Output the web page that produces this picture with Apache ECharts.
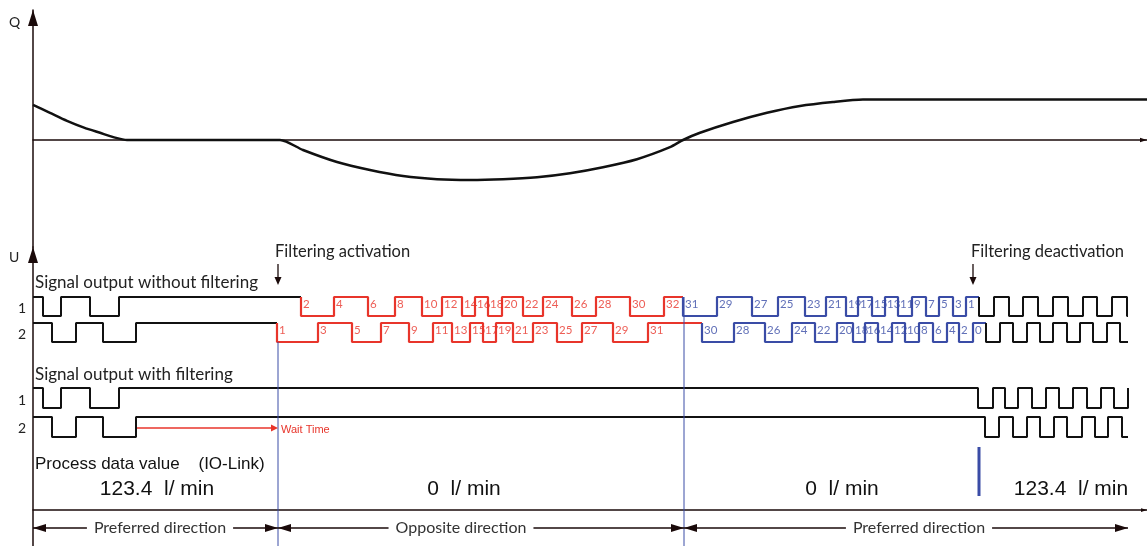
<!DOCTYPE html>
<html><head><meta charset="utf-8">
<script src="https://cdn.jsdelivr.net/npm/echarts@6/dist/echarts.min.js"></script>
<style>html,body{margin:0;padding:0;background:#fff}#c{width:1147px;height:546px}</style>
</head><body><div id="c"></div>
<script>
// ================= DATA =================
// Flow curve Q(t)
const qTime  = [0,17,34,51,67,82,94,247,270,304,337,370,404,437,470,504,537,570,604,637,650,667,700,734,767,800,830,1114];
const qValue = [0.88,0.68,0.48,0.31,0.18,0.06,0,0,-0.25,-0.55,-0.75,-0.9,-0.98,-1.0,-0.98,-0.93,-0.83,-0.68,-0.48,-0.18,0,0.18,0.45,0.68,0.85,0.95,1.01,1.01];

// Phase boundaries (time): filtering activation, flow reversal, filtering deactivation, end
const tActivation = 245, tReversal = 651, tDeactivation = 946, tEnd = 1095;
const tDeactArrow = 940;

// Signal output without filtering, channel 1 (edge times, starts high)
const nf1BlackEdges = [10,28,57,86];
const nf1RedEdges   = [268,301,335,362,389,409,429,442,455,469,490,510,539,563,597,631];
const nf1BlueEdges  = [650,684,719,745,772,793,813,825,839,852,865,879,893,906,920,933];
const nf1TailEdges  = [946,961,976,990,1005,1020,1035,1050,1064,1079,1094];
const nf1RedLabels  = [2,4,6,8,10,12,14,16,18,20,22,24,26,28,30,32];
const nf1BlueLabels = [31,29,27,25,23,21,19,17,15,13,11,9,7,5,3,1];

// Signal output without filtering, channel 2
const nf2BlackEdges = [19,43,70,103];
const nf2RedEdges   = [244,285,319,348,376,400,419,437,450,463,480,500,524,549,580,615];
const nf2BlueEdges  = [669,701,732,759,782,804,820,832,845,859,872,886,900,914,926,940];
const nf2TailEdges  = [953,967,980,994,1007,1020,1034,1047,1060,1074,1087];
const nf2RedLabels  = [1,3,5,7,9,11,13,15,17,19,21,23,25,27,29,31];
const nf2BlueLabels = [30,28,26,24,22,20,18,16,14,12,10,8,6,4,2,0];

// Signal output with filtering
const f1Edges = [10,28,57,86,945,960,972,985,999,1013,1026,1040,1054,1068,1081,1095];
const f2Edges = [19,43,70,103,952,966,980,994,1007,1021,1034,1049,1062,1075,1089];
const waitStart = 104;

// Text
const flowTexts = ['123.4  l/ min', '0  l/ min', '0  l/ min', '123.4  l/ min'];
const dirTexts  = ['Preferred direction', 'Opposite direction', 'Preferred direction'];

// ================= LAYOUT =================
const BLACK = '#111', RED = '#e8352b', BLUE = '#3a4ca6', AX = '#1a0a0a';
const GOTHIC = 'Lato, "Open Sans", sans-serif';
const ARIAL = '"Liberation Sans", Arial, sans-serif';
const TRI = 'path://M5,0L10,16L0,16Z';
// rows in lower grid units
const ROW = { nf1:{hi:213,lo:194}, nf2:{hi:187,lo:168}, f1:{hi:122,lo:102}, f2:{hi:93,lo:73} };

function steps(t0, startHigh, edges, tEndSeg, row) {
  let h = startHigh;
  const lv = () => (h ? row.hi : row.lo);
  const pts = [[t0, lv()]];
  for (const e of edges) { pts.push([e, lv()]); h = !h; pts.push([e, lv()]); }
  pts.push([tEndSeg, lv()]);
  return pts;
}
function sig(color, pts, w) {
  return { type:'line', xAxisIndex:1, yAxisIndex:1, data:pts, symbol:'none', showSymbol:false,
    lineStyle:{color, width:w || 2}, silent:true, z:3, animation:false };
}
function labels(color, edges, nums, row) {
  return { type:'scatter', xAxisIndex:1, yAxisIndex:1, symbolSize:0, silent:true, z:4,
    data: edges.map((e,i) => [e, (row.hi+row.lo)/2 + 2.5, nums[i]]),
    label:{show:true, position:'right', distance:2, formatter:p => String(p.value[2]),
      color, fontSize:11.5, fontFamily:GOTHIC} };
}
const hidden = { axisTick:{show:false}, axisLabel:{show:false}, splitLine:{show:false} };

const series = [
  { type:'line', xAxisIndex:0, yAxisIndex:0, data:qTime.map((t,i)=>[t,qValue[i]]), symbol:'none',
    smooth:0.25, lineStyle:{color:BLACK, width:2.5}, silent:true, z:3 },
  sig(BLACK, steps(0, true, nf1BlackEdges, nf1RedEdges[0], ROW.nf1)),
  sig(RED,   steps(nf1RedEdges[0], true, nf1RedEdges, nf1BlueEdges[0], ROW.nf1), 2.2),
  sig(BLUE,  steps(nf1BlueEdges[0], true, nf1BlueEdges, nf1TailEdges[0], ROW.nf1), 2.2),
  sig(BLACK, steps(nf1TailEdges[0], true, nf1TailEdges, tEnd, ROW.nf1)),
  sig(BLACK, steps(0, true, nf2BlackEdges, nf2RedEdges[0], ROW.nf2)),
  sig(RED,   steps(nf2RedEdges[0], true, nf2RedEdges, nf2BlueEdges[0], ROW.nf2), 2.2),
  sig(BLUE,  steps(nf2BlueEdges[0], true, nf2BlueEdges, nf2TailEdges[0], ROW.nf2), 2.2),
  sig(BLACK, steps(nf2TailEdges[0], true, nf2TailEdges, tEnd, ROW.nf2)),
  sig(BLACK, steps(0, true, f1Edges, tEnd, ROW.f1)),
  sig(BLACK, steps(0, true, f2Edges, tEnd, ROW.f2)),
  labels(RED, nf1RedEdges, nf1RedLabels, ROW.nf1),
  labels(BLUE, nf1BlueEdges, nf1BlueLabels, ROW.nf1),
  labels(RED, nf2RedEdges, nf2RedLabels, ROW.nf2),
  labels(BLUE, nf2BlueEdges, nf2BlueLabels, ROW.nf2),
  // phase divider lines
  sig(BLUE, [[tActivation, ROW.nf2.lo],[tActivation,-36]], 1),
  sig(BLUE, [[tReversal, ROW.nf1.hi],[tReversal,-36]], 1),
  sig(BLUE, [[tDeactivation, 63],[tDeactivation, 14]], 3),
  // wait time
  sig(RED, [[waitStart, 82],[tActivation-4, 82]], 1.5)
];

const option = {
  animation:false, backgroundColor:'#fff',
  grid:[ {left:33, right:0, top:10, height:237}, {left:33, right:0, top:247, height:299} ],
  xAxis:[
    Object.assign({gridIndex:0, type:'value', min:0, max:1114,
      axisLine:{show:true, onZero:true, symbol:['none',TRI], symbolSize:[6,7], symbolOffset:[0,-3.5], lineStyle:{color:AX, width:1.5}}}, hidden),
    Object.assign({gridIndex:1, type:'value', min:0, max:1114,
      axisLine:{show:true, onZero:true, symbol:['none',TRI], symbolSize:[9,6], symbolOffset:[0,-3], lineStyle:{color:AX, width:1.5}}}, hidden)
  ],
  yAxis:[
    Object.assign({gridIndex:0, type:'value', min:-2.675, max:3.25,
      axisLine:{show:true, onZero:false, symbol:['none',TRI], symbolSize:[11,16], symbolOffset:[0,-8], lineStyle:{color:AX, width:1.5}}}, hidden),
    Object.assign({gridIndex:1, type:'value', min:-36, max:263,
      axisLine:{show:true, onZero:false, symbol:['none',TRI], symbolSize:[11,16], symbolOffset:[0,-8], lineStyle:{color:AX, width:1.5}}}, hidden)
  ],
  series
};

const chart = echarts.init(document.getElementById('c'));
chart.setOption(option);

// ---- annotations ----
const P = (t, v) => chart.convertToPixel({gridIndex:1}, [t, v]);
const g = [];
function text(x, y, s, o) {
  g.push({type:'text', x, y, z:20, style:Object.assign({text:s, fill:'#222', font:'16px '+GOTHIC, textAlign:'left', textVerticalAlign:'middle'}, o||{})});
}
function tri(pts, fill) { g.push({type:'polygon', z:21, shape:{points:pts}, style:{fill: fill || AX}}); }
function seg(x1,y1,x2,y2,stroke,w) { g.push({type:'line', z:19, shape:{x1,y1,x2,y2}, style:{stroke: stroke||AX, lineWidth:w||1.5}}); }

text(9, 22, 'Q', {font:'14px '+GOTHIC});
text(9, 257, 'U', {font:'14px '+GOTHIC});
text(35, 283, 'Signal output without filtering', {font:'17px '+GOTHIC});
text(35, 375, 'Signal output with filtering', {font:'17px '+GOTHIC});
[[308,'1'],[334,'2'],[400,'1'],[428,'2']].forEach(([y,s]) => text(22, y, s, {font:'14px '+GOTHIC, textAlign:'center'}));

// filtering activation / deactivation arrows
[[tActivation, 'Filtering activation', -3],[tDeactArrow, 'Filtering deactivation', -2]].forEach(([t, s, dx]) => {
  const x = P(t, 0)[0];
  text(x + dx, 252, s, {font:'16.5px '+GOTHIC});
  seg(x, 264, x, 279, AX, 1.3);
  tri([[x, 285],[x-3.5, 277],[x+3.5, 277]]);
});

// wait time arrowhead + text
{
  const [x, y] = P(tActivation, 82);
  tri([[x, y],[x-7, y-3.5],[x-7, y+3.5]], RED);
  text(x + 3, y + 2, 'Wait Time', {font:'11px '+ARIAL, fill:RED});
}

text(35, 464, 'Process data value    (IO-Link)', {font:'17px '+ARIAL, fill:'#111'});
// flow values, centred per phase
[[157, flowTexts[0]],[464, flowTexts[1]],[842, flowTexts[2]],[1071, flowTexts[3]]].forEach(([x, s]) =>
  text(x, 489, s, {font:'21px '+ARIAL, fill:'#111', textAlign:'center'}));

// direction arrows
{
  const y = P(0, -18)[1];
  const xs = [0, tActivation, tReversal, tEnd].map(t => P(t, -18)[0]);
  seg(xs[0], y, xs[3], y, AX, 1.5);
  const L = 13, H = 4;
  const left  = x => tri([[x, y],[x+L, y-H],[x+L, y+H]]);
  const right = x => tri([[x, y],[x-L, y-H],[x-L, y+H]]);
  left(xs[0]); right(xs[1]); left(xs[1]); right(xs[2]); left(xs[2]); right(xs[3]);
  [[160, dirTexts[0]],[461, dirTexts[1]],[919, dirTexts[2]]].forEach(([x, s]) =>
    text(x, y, s, {font:'16px '+GOTHIC, fill:'#333', textAlign:'center', backgroundColor:'#fff', padding:[0,7]}));
}
chart.setOption({graphic:{elements:g}});
</script></body></html>
